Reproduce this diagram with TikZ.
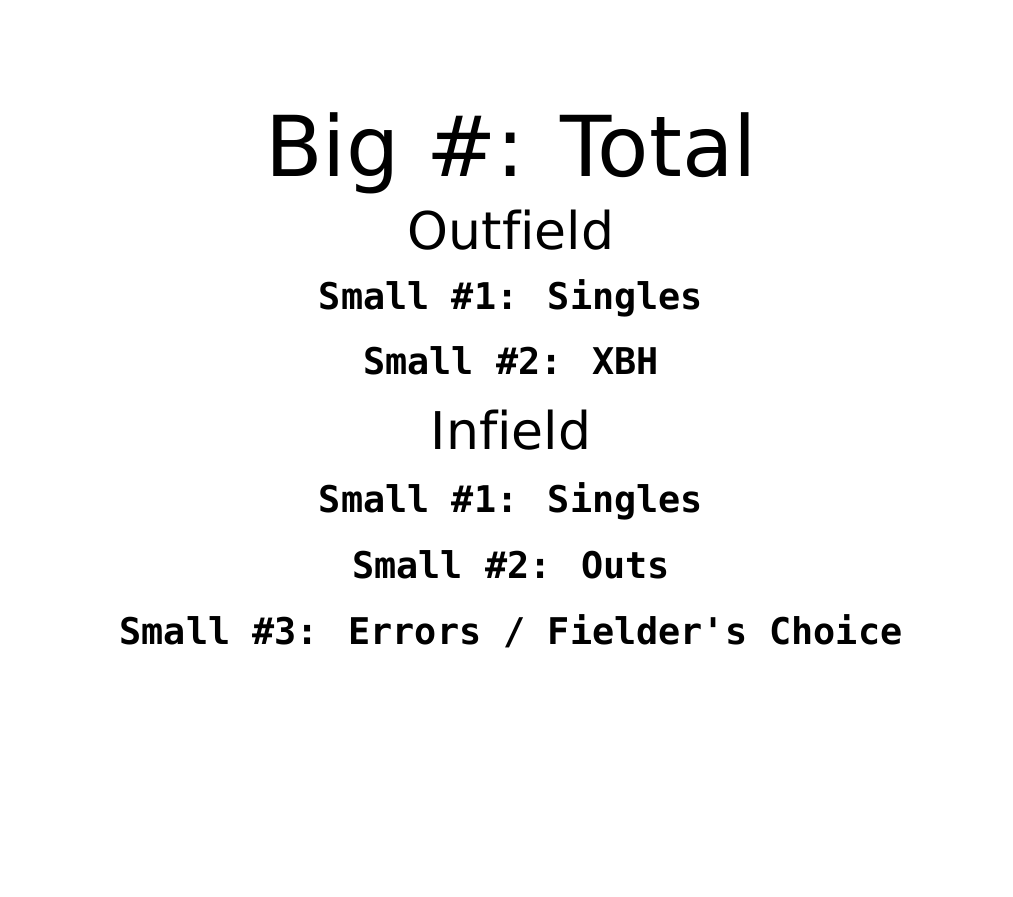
\documentclass[tikz,border=0pt]{standalone}
\usepackage{fontspec}
\setmainfont{DejaVu Sans}[Ligatures=NoCommon]
\newfontfamily\rowfont{DejaVu Sans Mono}
\usetikzlibrary{positioning}

\begin{document}
\begin{tikzpicture}[x=0.5pt, y=0.5pt,
    title/.style={inner sep=0pt, anchor=base, font=\fontsize{42}{46}\selectfont},
    heading/.style={inner sep=0pt, anchor=base, font=\fontsize{26}{30}\selectfont},
    row/.style={inner sep=0pt, anchor=base, font=\rowfont\bfseries\fontsize{18.4}{22}\selectfont}
]
    \useasboundingbox (0,0) rectangle (1013,-897);

    \node[title] (big total) at (511,-177) {Big \#: Total};

    % outfield
    \node[heading, below=36.5pt of big total.base, anchor=base] (outfield) {Outfield};
    \node[row, below=30pt of outfield.base, anchor=base] (out singles) {Small \#1: Singles};
    \node[row, below=32.5pt of out singles.base, anchor=base] (out xbh) {Small \#2: XBH};

    % infield
    \node[heading, below=37.5pt of out xbh.base, anchor=base] (infield) {Infield};
    \node[row, below=31.5pt of infield.base, anchor=base] (in singles) {Small \#1: Singles};
    \node[row, below=33pt of in singles.base, anchor=base] (in outs) {Small \#2: Outs};
    \node[row, below=33pt of in outs.base, anchor=base] (in errors) {Small \#3: Errors / Fielder's Choice};
\end{tikzpicture}
\end{document}
